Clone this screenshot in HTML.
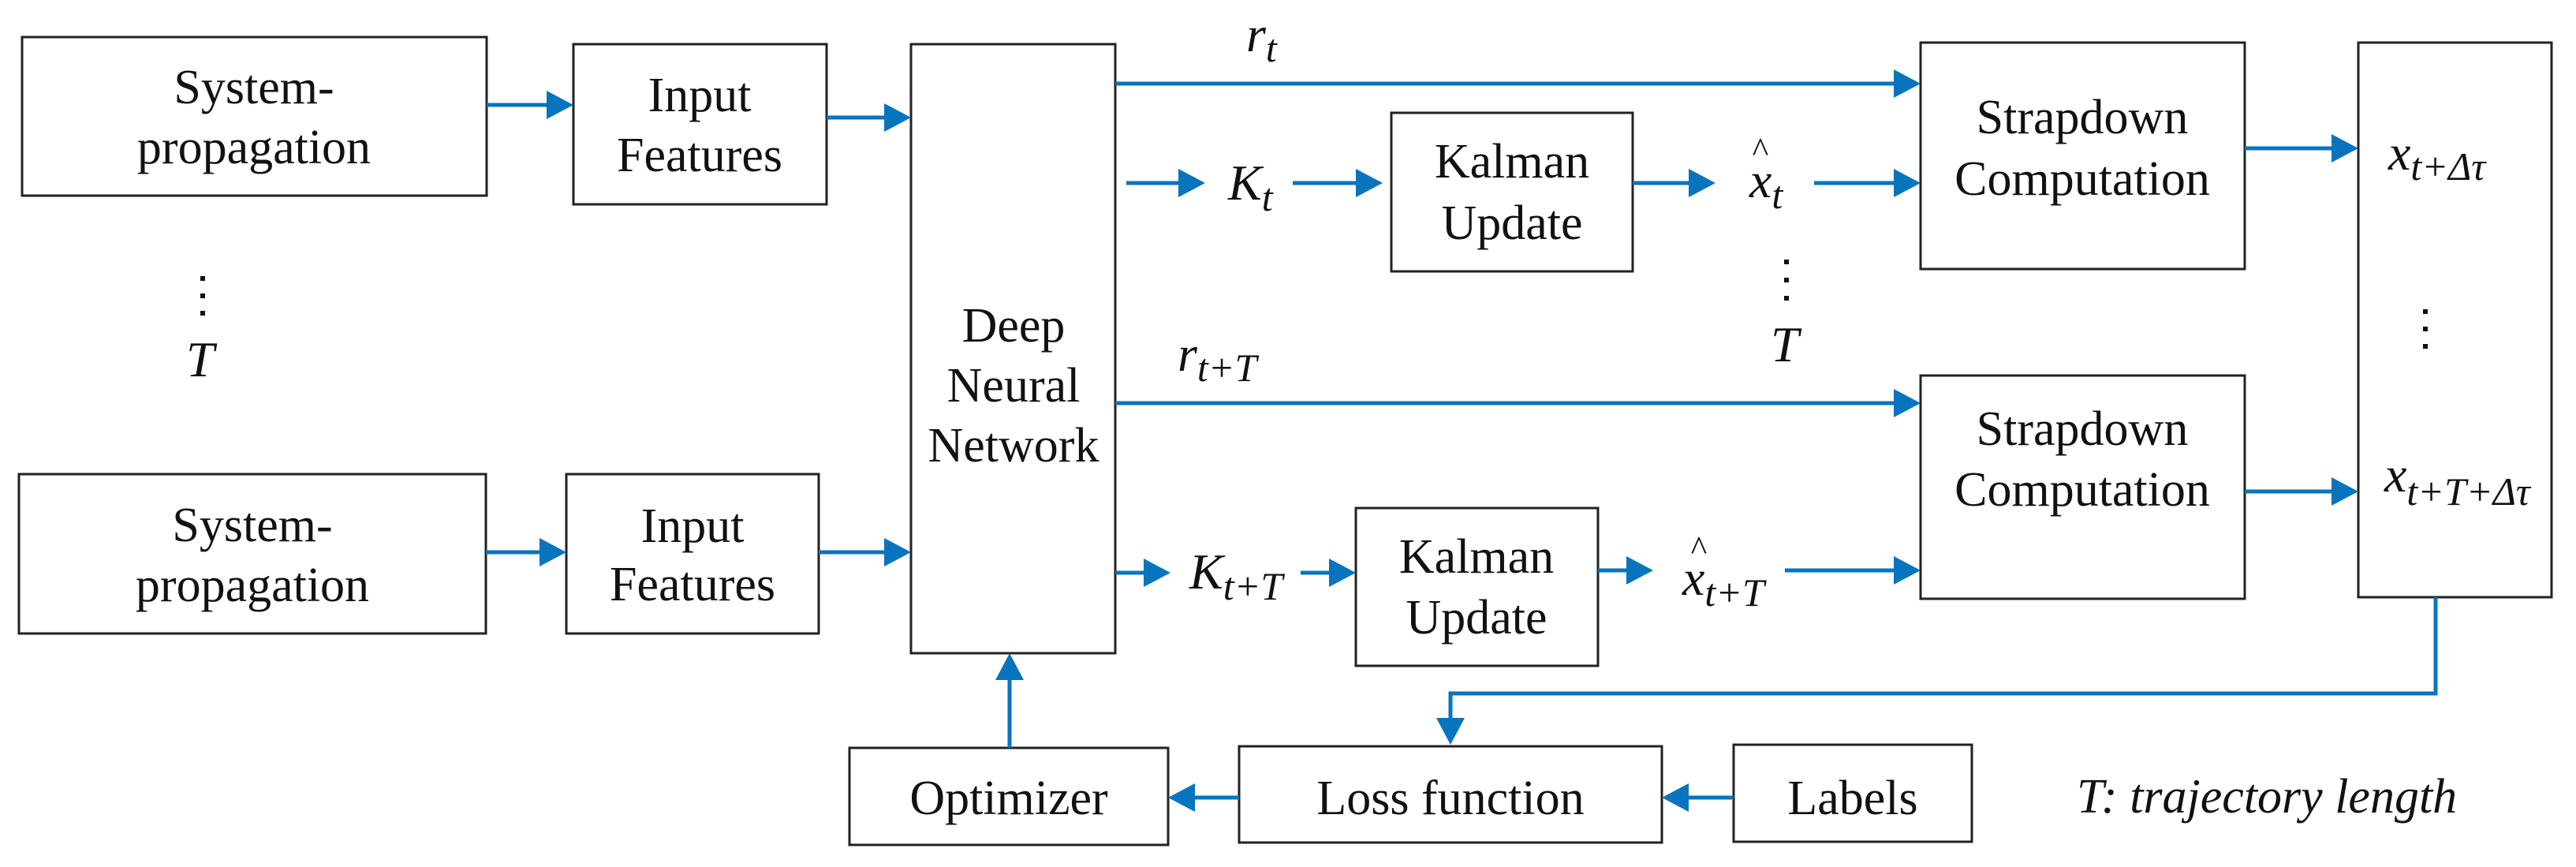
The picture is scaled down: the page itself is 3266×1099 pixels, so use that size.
<!DOCTYPE html>
<html><head><meta charset="utf-8"><style>
html,body{margin:0;padding:0;background:#fff;}
svg{display:block;}
.t{font-family:"Liberation Serif",serif;font-size:62px;fill:#111;text-anchor:middle;}
.m{font-family:"Liberation Serif",serif;font-style:italic;font-size:64px;fill:#111;}
.s{font-size:50px;}
rect{fill:#fff;stroke:#222;stroke-width:3;}
.l{stroke:#0874BE;stroke-width:5;fill:none;}
.h{fill:#0874BE;}
</style></head><body>
<svg width="3266" height="1099" viewBox="0 0 3266 1099" xmlns="http://www.w3.org/2000/svg">
<rect x="28" y="47" width="589" height="201"/>
<rect x="727" y="56" width="321" height="203"/>
<rect x="1155" y="56" width="259" height="772"/>
<rect x="24" y="601" width="592" height="202"/>
<rect x="718" y="601" width="320" height="202"/>
<rect x="1077" y="948" width="404" height="123"/>
<rect x="1764" y="143" width="306" height="201"/>
<rect x="1719" y="644" width="307" height="200"/>
<rect x="2435" y="54" width="411" height="287"/>
<rect x="2435" y="476" width="411" height="283"/>
<rect x="2990" y="54" width="245" height="703"/>
<rect x="1571" y="946" width="536" height="122"/>
<rect x="2198" y="944" width="302" height="123"/>

<text class="t" x="322" y="131">System-</text>
<text class="t" x="322" y="207">propagation</text>
<text class="t" x="320" y="686">System-</text>
<text class="t" x="320" y="762">propagation</text>
<text class="t" x="887" y="141">Input</text>
<text class="t" x="887" y="217">Features</text>
<text class="t" x="878" y="687">Input</text>
<text class="t" x="878" y="761">Features</text>
<text class="t" x="1285" y="433">Deep</text>
<text class="t" x="1285" y="509">Neural</text>
<text class="t" x="1285" y="585">Network</text>
<text class="t" x="1917" y="225">Kalman</text>
<text class="t" x="1917" y="303">Update</text>
<text class="t" x="1872" y="726">Kalman</text>
<text class="t" x="1872" y="803">Update</text>
<text class="t" x="2640" y="169">Strapdown</text>
<text class="t" x="2640" y="247">Computation</text>
<text class="t" x="2640" y="564">Strapdown</text>
<text class="t" x="2640" y="641">Computation</text>
<text class="t" x="1279" y="1032">Optimizer</text>
<text class="t" x="1839" y="1032">Loss function</text>
<text class="t" x="2349" y="1032">Labels</text>
<text class="m" x="2633" y="1030" style="font-size:62px">T: trajectory length</text>

<g>
<rect x="254" y="350" width="6" height="6" style="stroke:none;fill:#111"/>
<rect x="254" y="372" width="6" height="6" style="stroke:none;fill:#111"/>
<rect x="254" y="394" width="6" height="6" style="stroke:none;fill:#111"/>
<rect x="2262" y="329" width="6" height="6" style="stroke:none;fill:#111"/>
<rect x="2262" y="352" width="6" height="6" style="stroke:none;fill:#111"/>
<rect x="2262" y="375" width="6" height="6" style="stroke:none;fill:#111"/>
<rect x="3072" y="392" width="6" height="6" style="stroke:none;fill:#111"/>
<rect x="3072" y="414" width="6" height="6" style="stroke:none;fill:#111"/>
<rect x="3072" y="436" width="6" height="6" style="stroke:none;fill:#111"/>
</g>
<text class="m" x="236" y="477">T</text>
<text class="m" x="2245" y="458">T</text>

<text class="m" x="1580" y="65">r<tspan class="s" dy="13">t</tspan></text>
<text class="m" x="1557" y="253">K<tspan class="s" dy="14">t</tspan></text>
<text class="m" x="1493" y="470">r<tspan class="s" dy="13">t+T</tspan></text>
<text class="m" x="1508" y="746">K<tspan class="s" dy="14">t+T</tspan></text>
<text class="m" x="2218" y="250">x<tspan class="s" dy="14">t</tspan></text>
<text class="t" x="2232" y="205" style="font-size:44px">^</text>
<text class="m" x="2133" y="754">x<tspan class="s" dy="14">t+T</tspan></text>
<text class="t" x="2154" y="710" style="font-size:44px">^</text>
<text class="m" x="3028" y="215">x<tspan class="s" dy="13">t+Δτ</tspan></text>
<text class="m" x="3023" y="623">x<tspan class="s" dy="17">t+T+Δτ</tspan></text>

<g>
<line class="l" x1="617" y1="133" x2="700" y2="133"/><polygon class="h" points="727,133 693,115 693,151"/>
<line class="l" x1="1048" y1="149" x2="1128" y2="149"/><polygon class="h" points="1155,149 1121,131 1121,167"/>
<line class="l" x1="616" y1="700" x2="692" y2="700"/><polygon class="h" points="718,700 684,682 684,718"/>
<line class="l" x1="1038" y1="700" x2="1128" y2="700"/><polygon class="h" points="1155,700 1121,682 1121,718"/>
<line class="l" x1="1414" y1="106" x2="2408" y2="106"/><polygon class="h" points="2435,106 2401,88 2401,124"/>
<line class="l" x1="1428" y1="232" x2="1500" y2="232"/><polygon class="h" points="1528,232 1494,214 1494,250"/>
<line class="l" x1="1639" y1="232" x2="1726" y2="232"/><polygon class="h" points="1753,232 1719,214 1719,250"/>
<line class="l" x1="2070" y1="232" x2="2148" y2="232"/><polygon class="h" points="2175,232 2141,214 2141,250"/>
<line class="l" x1="2300" y1="232" x2="2408" y2="232"/><polygon class="h" points="2435,232 2401,214 2401,250"/>
<line class="l" x1="2846" y1="188" x2="2963" y2="188"/><polygon class="h" points="2990,188 2956,170 2956,206"/>
<line class="l" x1="1414" y1="511" x2="2408" y2="511"/><polygon class="h" points="2435,511 2401,493 2401,529"/>
<line class="l" x1="2846" y1="623" x2="2963" y2="623"/><polygon class="h" points="2990,623 2956,605 2956,641"/>
<line class="l" x1="1414" y1="726" x2="1458" y2="726"/><polygon class="h" points="1484,726 1450,708 1450,744"/>
<line class="l" x1="1649" y1="726" x2="1692" y2="726"/><polygon class="h" points="1719,726 1685,708 1685,744"/>
<line class="l" x1="2026" y1="723" x2="2070" y2="723"/><polygon class="h" points="2096,723 2062,705 2062,741"/>
<line class="l" x1="2263" y1="723" x2="2408" y2="723"/><polygon class="h" points="2435,723 2401,705 2401,741"/>
<line class="l" x1="2198" y1="1011" x2="2134" y2="1011"/><polygon class="h" points="2107,1011 2141,993 2141,1029"/>
<line class="l" x1="1571" y1="1011" x2="1508" y2="1011"/><polygon class="h" points="1481,1011 1515,993 1515,1029"/>
<line class="l" x1="1280" y1="948" x2="1280" y2="855"/><polygon class="h" points="1280,828 1262,862 1298,862"/>
<polyline class="l" points="3088,757 3088,879 1839,879 1839,917"/><polygon class="h" points="1839,944 1821,910 1857,910"/>
</g>
</svg>
</body></html>
